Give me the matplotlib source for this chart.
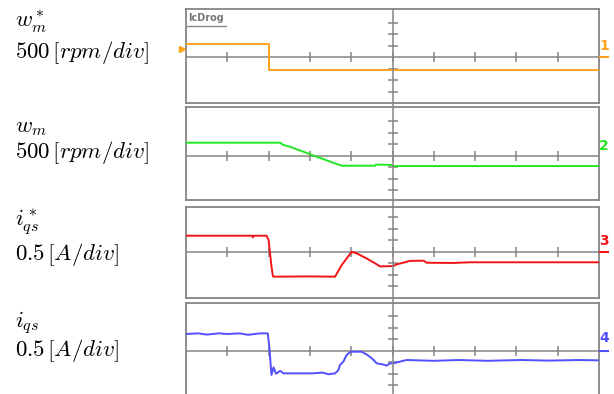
import matplotlib
matplotlib.use('Agg')
import matplotlib.pyplot as plt
from matplotlib.lines import Line2D

plt.rcParams['mathtext.fontset'] = 'cm'

# time axis in scope divisions (0..10), values in vertical divisions
ref_speed_t = [0, 2.0, 2.0, 10]
ref_speed_v = [1.13, 1.13, -1.07, -1.07]

speed_t = [0, 2.28, 2.36, 2.52, 2.68, 2.84, 3.0, 3.16, 3.32, 3.49, 3.61, 3.77, 4.58, 4.6, 4.98, 5.02, 10]
speed_v = [1.13, 1.13, 0.93, 0.78, 0.55, 0.35, 0.14, -0.09, -0.29, -0.52, -0.67, -0.87, -0.87, -0.77, -0.80, -0.90, -0.90]

ref_cur_t = [0, 1.6, 1.62, 1.64, 1.95, 2.0, 2.03, 2.07, 2.1, 2.115, 3.0, 3.61, 3.77, 4.01, 4.13, 4.37, 4.62, 4.70, 5.02, 5.1, 5.26, 5.42, 5.75, 5.83, 6.47, 6.87, 10]
ref_cur_v = [1.39, 1.39, 1.25, 1.39, 1.39, 1.02, 0.0, -1.30, -2.03, -2.17, -2.15, -2.17, -1.16, -0.02, -0.14, -0.58, -1.10, -1.28, -1.25, -1.10, -0.96, -0.80, -0.78, -0.96, -0.98, -0.92, -0.92]

cur_t = [0, 0.3, 0.5, 0.8, 1.0, 1.3, 1.5, 1.8, 1.98, 2.02, 2.07, 2.12, 2.18, 2.28, 2.36, 3.08, 3.3, 3.45, 3.61, 3.69, 3.73, 3.81, 3.89, 3.97, 4.01, 4.25, 4.37, 4.5, 4.62, 4.78, 4.86, 4.94, 5.02, 5.18, 5.34, 6.0, 6.6, 7.3, 8.1, 8.8, 9.5, 10]
cur_v = [1.45, 1.51, 1.40, 1.51, 1.45, 1.51, 1.38, 1.51, 1.51, 0.2, -2.11, -1.45, -2.0, -1.75, -1.97, -1.97, -1.90, -2.05, -1.97, -1.68, -1.24, -0.95, -0.37, -0.14, -0.09, -0.09, -0.32, -0.66, -1.10, -1.20, -1.30, -1.10, -1.10, -0.95, -0.81, -0.88, -0.81, -0.88, -0.81, -0.86, -0.81, -0.84]

colors = ['#ffa31a', '#22e622', '#f01414', '#5050ff']
names = [r'$w_m^*$', r'$w_m$', r'$i_{qs}^*$', r'$i_{qs}$']
scales = [r'$500\,[rpm/div]$', r'$500\,[rpm/div]$', r'$0.5\,[A/div]$', r'$0.5\,[A/div]$']
series = [(ref_speed_t, ref_speed_v), (speed_t, speed_v), (ref_cur_t, ref_cur_v), (cur_t, cur_v)]

W, H = 614, 394
# panel pixel boxes: top, bottom, zero-line
boxes = [(9, 103, 57.3), (107, 200, 155.7), (207, 298, 251.7), (303, 398, 350.7)]
name_y = [22, 126, 222, 323]
scale_y = [53, 153, 254, 351]
chan_y = [46, 146, 241, 338]
px_unit = 11.5
left, right = 186, 599
grey = '#858585'

fig = plt.figure(figsize=(W / 100, H / 100), dpi=100)

for i in range(4):
    top, bot, zero = boxes[i]
    ax = fig.add_axes([left / W, 1 - bot / H, (right - left) / W, (bot - top) / H])
    ax.set_xlim(0, 10)
    ax.set_ylim(-(bot - zero) / px_unit, (zero - top) / px_unit)
    ax.set_xticks([])
    ax.set_yticks([])
    for s in ax.spines.values():
        s.set_color(grey)
        s.set_linewidth(1.3)
    if i == 3:
        ax.spines['bottom'].set_visible(False)
    ax.axhline(0, color=grey, lw=1.1, zorder=1)
    ax.plot(range(1, 10), [0] * 9, ls='none', marker='|', ms=7, mew=1.1, color=grey, zorder=1)
    ax.plot([5] * 6, [-3, -2, -1, 1, 2, 3], ls='none', marker='_', ms=7, mew=1.1, color=grey, zorder=1)
    t, v = series[i]
    ax.plot(t, v, color=colors[i], lw=1.4, zorder=3)

    fig.text(15 / W, 1 - name_y[i] / H, names[i], fontsize=16.5, va='center', ha='left')
    fig.text(15 / W, 1 - scale_y[i] / H, scales[i], fontsize=16.5, va='center', ha='left')
    fig.text(599 / W, 1 - chan_y[i] / H, str(i + 1), fontsize=10, fontweight='bold',
             color=colors[i], va='center', ha='left')
    if i != 1:
        fig.add_artist(Line2D([600 / W, 608 / W], [1 - zero / H, 1 - zero / H],
                              color=colors[i], lw=1.5))

# continuous vertical centre line of the scope grid
fig.add_artist(Line2D([393 / W, 393 / W], [1 - 9 / H, 0], color=grey, lw=1.1))

# trigger marker and on-screen label
fig.add_artist(Line2D([182 / W], [1 - 49 / H], marker='>', ms=5, color=colors[0], ls='none'))
fig.text(188 / W, 1 - 18 / H, 'IcDrog', fontsize=7, fontweight='bold', color='#777777', va='center', ha='left')
fig.add_artist(Line2D([187 / W, 226 / W], [1 - 26 / H, 1 - 26 / H], color='#888888', lw=1))

fig.savefig('out.png', dpi=100)
